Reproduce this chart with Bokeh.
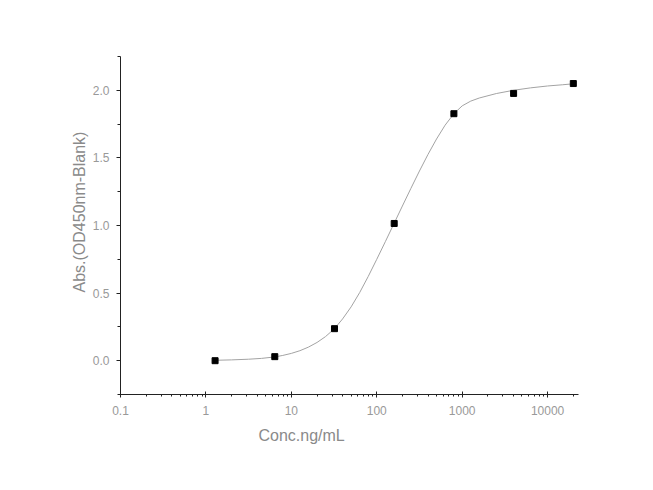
from bokeh.plotting import figure
from bokeh.models import FixedTicker, NumeralTickFormatter, Range1d, Title
from bokeh.embed import file_html
from bokeh.resources import INLINE

# measured standard points (5-fold dilution series)
conc = [1.28, 6.4, 32, 160, 800, 4000, 20000]
absorb = [0.0, 0.03, 0.237, 1.015, 1.827, 1.977, 2.05]

# fitted curve
curve_x = [1.28, 2.0, 3.16, 4.47, 6.4, 7.94, 10, 12.6, 15.8, 20, 25.1, 32, 39.8, 50.1,
           63.1, 79.4, 100, 125.9, 158.5, 199.5, 251.2, 316.2, 398.1, 501.2, 631, 800,
           1000, 1259, 1585, 2512, 3981, 6310, 10000, 15000, 20000]
curve_y = [0.003, 0.006, 0.011, 0.017, 0.028, 0.039, 0.054, 0.074, 0.1, 0.135, 0.178, 0.237,
           0.309, 0.398, 0.504, 0.623, 0.75, 0.88, 1.012, 1.144, 1.275, 1.403, 1.526, 1.64,
           1.742, 1.827, 1.885, 1.92, 1.943, 1.976, 2.0, 2.018, 2.032, 2.041, 2.048]

x_ticks = [0.1, 1, 10, 100, 1000, 10000]
x_minor = [m * d for d in [0.1, 1, 10, 100, 1000, 10000] for m in range(2, 10) if m * d < 23000]
y_ticks = [0.0, 0.5, 1.0, 1.5, 2.0]
y_minor = [-0.25, 0.25, 0.75, 1.25, 1.75, 2.25]
x_title = "Conc.ng/mL"
y_title = "Abs.(OD450nm-Blank)"

p = figure(width=645, height=482, x_axis_type="log", output_backend="svg",
           toolbar_location=None, x_range=Range1d(0.1, 23000), y_range=Range1d(-0.25, 2.25),
           min_border_left=120, min_border_right=67, min_border_top=56, min_border_bottom=88)
p.outline_line_color = None
p.xgrid.visible = False
p.ygrid.visible = False
p.background_fill_color = "white"

p.line(curve_x, curve_y, line_color="#a3a3a3", line_width=1)
p.scatter(conc, absorb, marker="square", size=6, fill_color="black", line_color="black")

xa = p.xaxis[0]
xa.ticker = FixedTicker(ticks=x_ticks, minor_ticks=x_minor)
xa.formatter = NumeralTickFormatter(format="0.[0]")
ya = p.yaxis[0]
ya.ticker = FixedTicker(ticks=y_ticks, minor_ticks=y_minor)
ya.formatter = NumeralTickFormatter(format="0.0")

for ax in (xa, ya):
    ax.axis_line_color = "#222222"
    ax.major_tick_line_color = "#222222"
    ax.minor_tick_line_color = "#222222"
    ax.major_label_text_color = "#999999"
    ax.major_label_text_font = "Liberation Sans"
    ax.major_label_text_font_size = "12px"

xa.major_tick_in = 3
xa.major_tick_out = 3
xa.minor_tick_in = 0
xa.minor_tick_out = 2
xa.major_label_standoff = 8
ya.major_tick_in = 0
ya.major_tick_out = 4
ya.minor_tick_in = 0
ya.minor_tick_out = 3
ya.major_label_standoff = 7

# axis titles, placed off-centre as in the reference
p.add_layout(Title(text=x_title, align="left", offset=138, standoff=15,
                   text_color="#8a8a8a", text_font="Liberation Sans",
                   text_font_style="normal", text_font_size="16px"), "below")
p.add_layout(Title(text=y_title, align="left", offset=102, standoff=4,
                   text_color="#8a8a8a", text_font="Liberation Sans",
                   text_font_style="normal", text_font_size="16px"), "left")

open("out.html", "w").write(file_html(p, INLINE))
